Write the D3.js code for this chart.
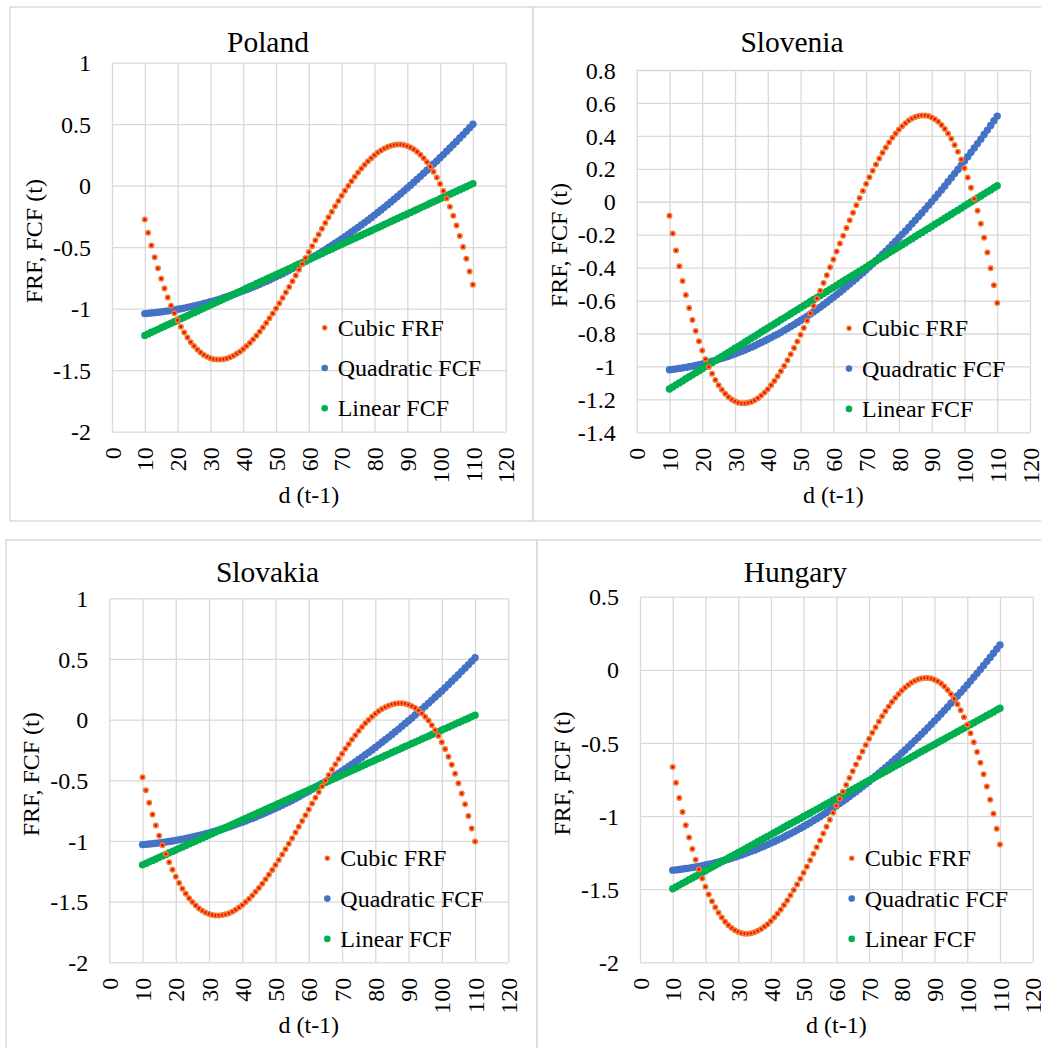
<!DOCTYPE html>
<html>
<head>
<meta charset="utf-8">
<script src="https://cdn.jsdelivr.net/npm/d3@7"></script>
<style>
  body { margin: 0; background: #fff; }
</style>
</head>
<body>
<div id="chart"></div>
<script>
// abscisse commune : d (t-1), 10 -> 110
const dValues = [10,11,12,13,14,15,16,17,18,19,20,21,22,23,24,25,26,27,28,29,
30,31,32,33,34,35,36,37,38,39,40,41,42,43,44,45,46,47,48,49,
50,51,52,53,54,55,56,57,58,59,60,61,62,63,64,65,66,67,68,69,
70,71,72,73,74,75,76,77,78,79,80,81,82,83,84,85,86,87,88,89,
90,91,92,93,94,95,96,97,98,99,100,101,102,103,104,105,106,107,108,109,110];

const xTicks = [0,10,20,30,40,50,60,70,80,90,100,110,120];

// Poland
const polandTicks = [1,0.5,0,-0.5,-1,-1.5,-2];
const polandCubic = [-0.275,-0.383,-0.486,-0.582,-0.672,-0.756,-0.835,-0.908,-0.975,-1.037,
-1.094,-1.146,-1.193,-1.234,-1.272,-1.304,-1.332,-1.356,-1.376,-1.391,
-1.402,-1.410,-1.414,-1.414,-1.411,-1.405,-1.395,-1.383,-1.367,-1.349,
-1.328,-1.304,-1.278,-1.250,-1.219,-1.187,-1.152,-1.116,-1.078,-1.039,
-0.998,-0.956,-0.912,-0.868,-0.823,-0.777,-0.730,-0.683,-0.636,-0.588,
-0.540,-0.492,-0.444,-0.397,-0.350,-0.303,-0.257,-0.212,-0.168,-0.124,
-0.082,-0.041,-0.002,0.036,0.072,0.107,0.139,0.170,0.198,0.224,
0.248,0.269,0.287,0.303,0.315,0.325,0.331,0.334,0.334,0.330,
0.322,0.311,0.296,0.276,0.252,0.224,0.192,0.154,0.113,0.066,
0.014,-0.043,-0.105,-0.172,-0.245,-0.324,-0.408,-0.498,-0.594,-0.697,
-0.805];
const polandQuad = [-1.040,-1.038,-1.035,-1.032,-1.029,-1.026,-1.022,-1.018,-1.014,-1.010,
-1.005,-1.000,-0.995,-0.989,-0.983,-0.977,-0.971,-0.965,-0.958,-0.951,
-0.943,-0.936,-0.928,-0.920,-0.911,-0.903,-0.894,-0.884,-0.875,-0.865,
-0.855,-0.845,-0.834,-0.824,-0.813,-0.801,-0.790,-0.778,-0.766,-0.753,
-0.741,-0.728,-0.715,-0.701,-0.688,-0.674,-0.660,-0.645,-0.630,-0.615,
-0.600,-0.584,-0.569,-0.553,-0.536,-0.520,-0.503,-0.486,-0.468,-0.451,
-0.433,-0.415,-0.396,-0.377,-0.358,-0.339,-0.320,-0.300,-0.280,-0.260,
-0.239,-0.218,-0.197,-0.176,-0.154,-0.132,-0.110,-0.088,-0.065,-0.042,
-0.019,0.004,0.028,0.052,0.076,0.101,0.126,0.151,0.176,0.201,
0.227,0.253,0.280,0.306,0.333,0.360,0.388,0.415,0.443,0.472,
0.500];
const polandLinear = [-1.217,-1.205,-1.192,-1.180,-1.168,-1.155,-1.143,-1.131,-1.118,-1.106,
-1.094,-1.081,-1.069,-1.057,-1.044,-1.032,-1.020,-1.007,-0.995,-0.983,
-0.970,-0.958,-0.946,-0.933,-0.921,-0.909,-0.896,-0.884,-0.871,-0.859,
-0.847,-0.834,-0.822,-0.810,-0.797,-0.785,-0.773,-0.760,-0.748,-0.736,
-0.723,-0.711,-0.699,-0.686,-0.674,-0.662,-0.649,-0.637,-0.625,-0.612,
-0.600,-0.588,-0.575,-0.563,-0.551,-0.538,-0.526,-0.514,-0.501,-0.489,
-0.477,-0.464,-0.452,-0.440,-0.427,-0.415,-0.403,-0.390,-0.378,-0.366,
-0.353,-0.341,-0.329,-0.316,-0.304,-0.291,-0.279,-0.267,-0.254,-0.242,
-0.230,-0.217,-0.205,-0.193,-0.180,-0.168,-0.156,-0.143,-0.131,-0.119,
-0.106,-0.094,-0.082,-0.069,-0.057,-0.045,-0.032,-0.020,-0.008,0.005,
0.017];

// Slovenia
const sloveniaTicks = [0.8,0.6,0.4,0.2,0,-0.2,-0.4,-0.6,-0.8,-1,-1.2,-1.4];
const sloveniaCubic = [-0.085,-0.193,-0.296,-0.392,-0.482,-0.566,-0.645,-0.718,-0.785,-0.847,
-0.904,-0.956,-1.003,-1.044,-1.082,-1.114,-1.142,-1.166,-1.186,-1.201,
-1.212,-1.220,-1.224,-1.224,-1.221,-1.215,-1.205,-1.193,-1.177,-1.159,
-1.138,-1.114,-1.088,-1.060,-1.029,-0.997,-0.962,-0.926,-0.888,-0.849,
-0.808,-0.766,-0.722,-0.678,-0.633,-0.587,-0.540,-0.493,-0.446,-0.398,
-0.350,-0.302,-0.254,-0.207,-0.160,-0.113,-0.067,-0.022,0.022,0.066,
0.108,0.149,0.188,0.226,0.262,0.297,0.329,0.360,0.388,0.414,
0.438,0.459,0.477,0.493,0.505,0.515,0.521,0.524,0.524,0.520,
0.512,0.501,0.486,0.466,0.442,0.414,0.382,0.344,0.303,0.256,
0.204,0.147,0.085,0.018,-0.055,-0.134,-0.218,-0.308,-0.404,-0.507,
-0.615];
const sloveniaQuad = [-1.020,-1.018,-1.015,-1.012,-1.009,-1.006,-1.002,-0.998,-0.994,-0.990,
-0.985,-0.980,-0.975,-0.969,-0.963,-0.957,-0.951,-0.945,-0.938,-0.931,
-0.923,-0.916,-0.908,-0.900,-0.891,-0.883,-0.874,-0.864,-0.855,-0.845,
-0.835,-0.825,-0.814,-0.804,-0.793,-0.781,-0.770,-0.758,-0.746,-0.733,
-0.721,-0.708,-0.695,-0.681,-0.668,-0.654,-0.640,-0.625,-0.610,-0.595,
-0.580,-0.564,-0.549,-0.533,-0.516,-0.500,-0.483,-0.466,-0.448,-0.431,
-0.413,-0.395,-0.376,-0.357,-0.338,-0.319,-0.300,-0.280,-0.260,-0.240,
-0.219,-0.198,-0.177,-0.156,-0.134,-0.112,-0.090,-0.068,-0.045,-0.022,
0.001,0.024,0.048,0.072,0.096,0.121,0.146,0.171,0.196,0.221,
0.247,0.273,0.300,0.326,0.353,0.380,0.408,0.435,0.463,0.492,
0.520];
const sloveniaLinear = [-1.137,-1.125,-1.112,-1.100,-1.088,-1.075,-1.063,-1.051,-1.038,-1.026,
-1.014,-1.001,-0.989,-0.977,-0.964,-0.952,-0.940,-0.927,-0.915,-0.903,
-0.890,-0.878,-0.866,-0.853,-0.841,-0.829,-0.816,-0.804,-0.791,-0.779,
-0.767,-0.754,-0.742,-0.730,-0.717,-0.705,-0.693,-0.680,-0.668,-0.656,
-0.643,-0.631,-0.619,-0.606,-0.594,-0.582,-0.569,-0.557,-0.545,-0.532,
-0.520,-0.508,-0.495,-0.483,-0.471,-0.458,-0.446,-0.434,-0.421,-0.409,
-0.397,-0.384,-0.372,-0.360,-0.347,-0.335,-0.323,-0.310,-0.298,-0.286,
-0.273,-0.261,-0.249,-0.236,-0.224,-0.211,-0.199,-0.187,-0.174,-0.162,
-0.150,-0.137,-0.125,-0.113,-0.100,-0.088,-0.076,-0.063,-0.051,-0.039,
-0.026,-0.014,-0.002,0.011,0.023,0.035,0.048,0.060,0.072,0.085,
0.097];

// Slovakia
const slovakiaTicks = [1,0.5,0,-0.5,-1,-1.5,-2];
const slovakiaCubic = [-0.475,-0.583,-0.686,-0.782,-0.872,-0.956,-1.035,-1.108,-1.175,-1.237,
-1.294,-1.346,-1.393,-1.434,-1.472,-1.504,-1.532,-1.556,-1.576,-1.591,
-1.602,-1.610,-1.614,-1.614,-1.611,-1.605,-1.595,-1.583,-1.567,-1.549,
-1.528,-1.504,-1.478,-1.450,-1.419,-1.387,-1.352,-1.316,-1.278,-1.239,
-1.198,-1.156,-1.112,-1.068,-1.023,-0.977,-0.930,-0.883,-0.836,-0.788,
-0.740,-0.692,-0.644,-0.597,-0.550,-0.503,-0.457,-0.412,-0.368,-0.324,
-0.282,-0.241,-0.202,-0.164,-0.128,-0.093,-0.061,-0.030,-0.002,0.024,
0.048,0.069,0.087,0.103,0.115,0.125,0.131,0.134,0.134,0.130,
0.122,0.111,0.096,0.076,0.052,0.024,-0.008,-0.046,-0.087,-0.134,
-0.186,-0.243,-0.305,-0.372,-0.445,-0.524,-0.608,-0.698,-0.794,-0.897,
-1.005];
const slovakiaQuad = [-1.030,-1.028,-1.025,-1.022,-1.019,-1.016,-1.012,-1.008,-1.004,-1.000,
-0.995,-0.990,-0.985,-0.979,-0.973,-0.967,-0.961,-0.955,-0.948,-0.941,
-0.933,-0.926,-0.918,-0.910,-0.901,-0.893,-0.884,-0.874,-0.865,-0.855,
-0.845,-0.835,-0.824,-0.814,-0.803,-0.791,-0.780,-0.768,-0.756,-0.743,
-0.731,-0.718,-0.705,-0.691,-0.678,-0.664,-0.650,-0.635,-0.620,-0.605,
-0.590,-0.574,-0.559,-0.543,-0.526,-0.510,-0.493,-0.476,-0.458,-0.441,
-0.423,-0.405,-0.386,-0.367,-0.348,-0.329,-0.310,-0.290,-0.270,-0.250,
-0.229,-0.208,-0.187,-0.166,-0.144,-0.122,-0.100,-0.078,-0.055,-0.032,
-0.009,0.014,0.038,0.062,0.086,0.111,0.136,0.161,0.186,0.211,
0.237,0.263,0.290,0.316,0.343,0.370,0.398,0.425,0.453,0.482,
0.510];
const slovakiaLinear = [-1.197,-1.185,-1.172,-1.160,-1.148,-1.135,-1.123,-1.111,-1.098,-1.086,
-1.074,-1.061,-1.049,-1.037,-1.024,-1.012,-1.000,-0.987,-0.975,-0.963,
-0.950,-0.938,-0.926,-0.913,-0.901,-0.889,-0.876,-0.864,-0.851,-0.839,
-0.827,-0.814,-0.802,-0.790,-0.777,-0.765,-0.753,-0.740,-0.728,-0.716,
-0.703,-0.691,-0.679,-0.666,-0.654,-0.642,-0.629,-0.617,-0.605,-0.592,
-0.580,-0.568,-0.555,-0.543,-0.531,-0.518,-0.506,-0.494,-0.481,-0.469,
-0.457,-0.444,-0.432,-0.420,-0.407,-0.395,-0.383,-0.370,-0.358,-0.346,
-0.333,-0.321,-0.309,-0.296,-0.284,-0.271,-0.259,-0.247,-0.234,-0.222,
-0.210,-0.197,-0.185,-0.173,-0.160,-0.148,-0.136,-0.123,-0.111,-0.099,
-0.086,-0.074,-0.062,-0.049,-0.037,-0.025,-0.012,0.000,0.012,0.025,
0.037];

// Hungary
const hungaryTicks = [0.5,0,-0.5,-1,-1.5,-2];
const hungaryCubic = [-0.665,-0.773,-0.876,-0.972,-1.062,-1.146,-1.225,-1.298,-1.365,-1.427,
-1.484,-1.536,-1.583,-1.624,-1.662,-1.694,-1.722,-1.746,-1.766,-1.781,
-1.792,-1.800,-1.804,-1.804,-1.801,-1.795,-1.785,-1.773,-1.757,-1.739,
-1.718,-1.694,-1.668,-1.640,-1.609,-1.577,-1.542,-1.506,-1.468,-1.429,
-1.388,-1.346,-1.302,-1.258,-1.213,-1.167,-1.120,-1.073,-1.026,-0.978,
-0.930,-0.882,-0.834,-0.787,-0.740,-0.693,-0.647,-0.602,-0.558,-0.514,
-0.472,-0.431,-0.392,-0.354,-0.318,-0.283,-0.251,-0.220,-0.192,-0.166,
-0.142,-0.121,-0.103,-0.087,-0.075,-0.065,-0.059,-0.056,-0.056,-0.060,
-0.068,-0.079,-0.094,-0.114,-0.138,-0.166,-0.198,-0.236,-0.277,-0.324,
-0.376,-0.433,-0.495,-0.562,-0.635,-0.714,-0.798,-0.888,-0.984,-1.087,
-1.195];
const hungaryQuad = [-1.370,-1.368,-1.365,-1.362,-1.359,-1.356,-1.352,-1.348,-1.344,-1.340,
-1.335,-1.330,-1.325,-1.319,-1.313,-1.307,-1.301,-1.295,-1.288,-1.281,
-1.273,-1.266,-1.258,-1.250,-1.241,-1.233,-1.224,-1.214,-1.205,-1.195,
-1.185,-1.175,-1.164,-1.154,-1.143,-1.131,-1.120,-1.108,-1.096,-1.083,
-1.071,-1.058,-1.045,-1.031,-1.018,-1.004,-0.990,-0.975,-0.960,-0.945,
-0.930,-0.914,-0.899,-0.883,-0.866,-0.850,-0.833,-0.816,-0.798,-0.781,
-0.763,-0.745,-0.726,-0.707,-0.688,-0.669,-0.650,-0.630,-0.610,-0.590,
-0.569,-0.548,-0.527,-0.506,-0.484,-0.462,-0.440,-0.418,-0.395,-0.372,
-0.349,-0.326,-0.302,-0.278,-0.254,-0.229,-0.204,-0.179,-0.154,-0.129,
-0.103,-0.077,-0.050,-0.024,0.003,0.030,0.058,0.085,0.113,0.142,
0.170];
const hungaryLinear = [-1.497,-1.485,-1.472,-1.460,-1.448,-1.435,-1.423,-1.411,-1.398,-1.386,
-1.374,-1.361,-1.349,-1.337,-1.324,-1.312,-1.300,-1.287,-1.275,-1.263,
-1.250,-1.238,-1.226,-1.213,-1.201,-1.189,-1.176,-1.164,-1.151,-1.139,
-1.127,-1.114,-1.102,-1.090,-1.077,-1.065,-1.053,-1.040,-1.028,-1.016,
-1.003,-0.991,-0.979,-0.966,-0.954,-0.942,-0.929,-0.917,-0.905,-0.892,
-0.880,-0.868,-0.855,-0.843,-0.831,-0.818,-0.806,-0.794,-0.781,-0.769,
-0.757,-0.744,-0.732,-0.720,-0.707,-0.695,-0.683,-0.670,-0.658,-0.646,
-0.633,-0.621,-0.609,-0.596,-0.584,-0.571,-0.559,-0.547,-0.534,-0.522,
-0.510,-0.497,-0.485,-0.473,-0.460,-0.448,-0.436,-0.423,-0.411,-0.399,
-0.386,-0.374,-0.362,-0.349,-0.337,-0.325,-0.312,-0.300,-0.288,-0.275,
-0.263];

const legendNames = ["Cubic FRF", "Quadratic FCF", "Linear FCF"];

const serif = "'Liberation Serif', 'Times New Roman', serif";
const gridColor = "#d9d9d9";
const blue = "#4472C4";
const green = "#00B050";
const orange = "#ED7D31";
const red = "#FF0000";

const svg = d3.select("#chart").append("svg")
    .attr("width", 1041)
    .attr("height", 1048)
    .style("background-color", "white");

// un panneau = un pays
function drawPanel(p) {
    const g = svg.append("g");

    // cadre gris autour du graphique
    g.append("rect")
        .attr("x", p.box[0]).attr("y", p.box[1])
        .attr("width", p.box[2]).attr("height", p.box[3])
        .attr("fill", "none")
        .attr("stroke", gridColor)
        .attr("stroke-width", 1.4);

    const x = d3.scaleLinear().domain([0, 120]).range([p.left, p.right]);
    const y = d3.scaleLinear().domain([d3.min(p.yTicks), d3.max(p.yTicks)]).range([p.bottom, p.top]);

    // grille
    const gx = g.append("g")
        .attr("transform", "translate(0," + p.bottom + ")")
        .call(d3.axisBottom(x).tickValues(xTicks).tickSize(-(p.bottom - p.top)).tickFormat(""));
    gx.select(".domain").remove();
    gx.selectAll("line").attr("stroke", gridColor).attr("stroke-width", 1.3);

    const gy = g.append("g")
        .attr("transform", "translate(" + p.left + ",0)")
        .call(d3.axisLeft(y).tickValues(p.yTicks).tickSize(-(p.right - p.left)).tickFormat(""));
    gy.select(".domain").remove();
    gy.selectAll("line").attr("stroke", gridColor).attr("stroke-width", 1.3);

    // valeurs de l'axe y
    const yAxis = g.append("g")
        .attr("transform", "translate(" + p.left + ",0)")
        .call(d3.axisLeft(y).tickValues(p.yTicks).tickSize(0).tickPadding(21).tickFormat(d => String(d)));
    yAxis.select(".domain").remove();
    yAxis.selectAll("text")
        .attr("font-family", serif)
        .attr("font-size", 24)
        .attr("fill", "#000")
        .attr("dy", "0.34em");

    // valeurs de l'axe x, écrites à la verticale
    const xAxis = g.append("g")
        .attr("transform", "translate(0," + p.bottom + ")")
        .call(d3.axisBottom(x).tickValues(xTicks).tickSize(0).tickFormat(d => String(d)));
    xAxis.select(".domain").remove();
    xAxis.selectAll("text")
        .attr("transform", "rotate(-90)")
        .attr("text-anchor", "end")
        .attr("x", -15.5)
        .attr("y", 0)
        .attr("dy", "0.34em")
        .attr("font-family", serif)
        .attr("font-size", 24)
        .attr("fill", "#000");

    // titres
    g.append("text")
        .attr("x", p.titleX)
        .attr("y", p.titleY)
        .attr("text-anchor", "middle")
        .attr("font-family", serif)
        .attr("font-size", 29.5)
        .text(p.name);

    g.append("text")
        .attr("x", (p.left + p.right) / 2)
        .attr("y", p.bottom + 71)
        .attr("text-anchor", "middle")
        .attr("font-family", serif)
        .attr("font-size", 24)
        .text("d (t-1)");

    g.append("text")
        .attr("transform", "translate(" + (p.left - 70) + "," + ((p.top + p.bottom) / 2 - 6) + ") rotate(-90)")
        .attr("text-anchor", "middle")
        .attr("font-family", serif)
        .attr("font-size", 24)
        .text("FRF, FCF (t)");

    // points : quadratique, linéaire puis cubique par-dessus
    g.append("g").selectAll("circle")
        .data(p.quad)
        .enter().append("circle")
        .attr("cx", (d, i) => x(dValues[i]))
        .attr("cy", d => y(d))
        .attr("r", 3.7)
        .attr("fill", blue);

    g.append("g").selectAll("circle")
        .data(p.linear)
        .enter().append("circle")
        .attr("cx", (d, i) => x(dValues[i]))
        .attr("cy", d => y(d))
        .attr("r", 3.7)
        .attr("fill", green);

    g.append("g").selectAll("circle")
        .data(p.cubic)
        .enter().append("circle")
        .attr("cx", (d, i) => x(dValues[i]))
        .attr("cy", d => y(d))
        .attr("r", 2.2)
        .attr("fill", red)
        .attr("stroke", orange)
        .attr("stroke-width", 1.6);

    // légende
    const legend = g.append("g")
        .attr("transform", "translate(" + (p.right - 181) + "," + (p.bottom - 104) + ")")
        .selectAll("g")
        .data(legendNames)
        .enter().append("g")
        .attr("transform", (d, i) => "translate(0," + (i * 40.3) + ")");

    legend.append("circle")
        .attr("r", (d, i) => i === 0 ? 2 : 3.3)
        .attr("fill", (d, i) => [red, blue, green][i])
        .attr("stroke", (d, i) => i === 0 ? orange : "none")
        .attr("stroke-width", 1.5);

    legend.append("text")
        .attr("x", 13)
        .attr("dy", "0.34em")
        .attr("font-family", serif)
        .attr("font-size", 24)
        .text(d => d);
}

drawPanel({ name: "Poland", box: [10, 7, 523, 514],
    left: 112, right: 505.7, top: 62.7, bottom: 431.7, titleX: 268, titleY: 51.7,
    yTicks: polandTicks, cubic: polandCubic, quad: polandQuad, linear: polandLinear });

drawPanel({ name: "Slovenia", box: [533, 7, 530, 514],
    left: 636.7, right: 1030, top: 70, bottom: 432.3, titleX: 792, titleY: 51.7,
    yTicks: sloveniaTicks, cubic: sloveniaCubic, quad: sloveniaQuad, linear: sloveniaLinear });

drawPanel({ name: "Slovakia", box: [6, 540, 531, 530],
    left: 109.3, right: 508.3, top: 598.3, bottom: 962.3, titleX: 267.5, titleY: 581.7,
    yTicks: slovakiaTicks, cubic: slovakiaCubic, quad: slovakiaQuad, linear: slovakiaLinear });

drawPanel({ name: "Hungary", box: [537, 540, 530, 530],
    left: 640, right: 1032.7, top: 596.7, bottom: 962.3, titleX: 795.3, titleY: 582,
    yTicks: hungaryTicks, cubic: hungaryCubic, quad: hungaryQuad, linear: hungaryLinear });
</script>
</body>
</html>
